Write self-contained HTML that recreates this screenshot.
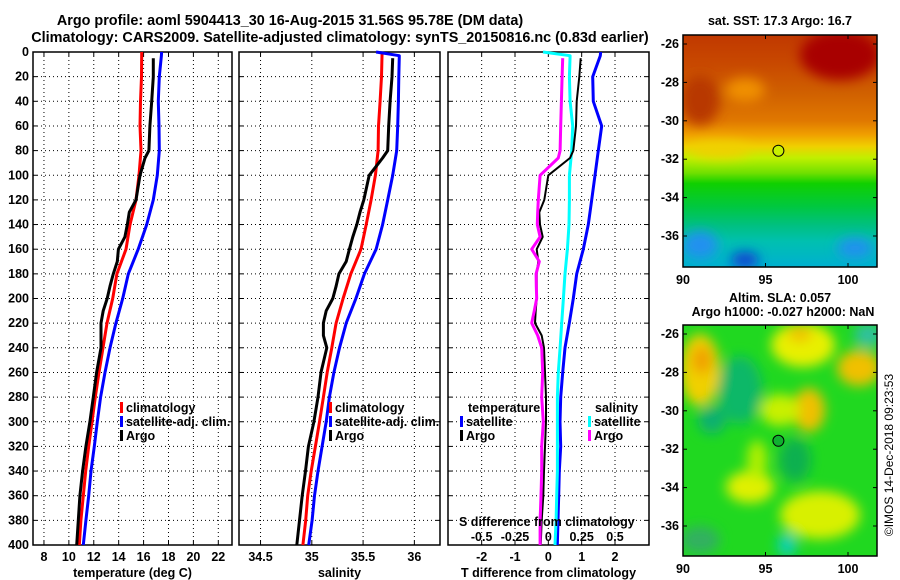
<!DOCTYPE html>
<html><head><meta charset="utf-8"><style>
html,body{margin:0;padding:0;background:#fff;width:900px;height:580px;overflow:hidden}
svg text{font-family:"Liberation Sans",Arial,sans-serif;font-weight:bold;fill:#000}
</style></head><body>
<svg id="chart" xmlns="http://www.w3.org/2000/svg" width="900" height="580" viewBox="0 0 900 580">
<defs>
<filter id="blur6" x="-50%" y="-50%" width="200%" height="200%"><feGaussianBlur stdDeviation="6"/></filter>
<clipPath id="clipTop"><rect x="683" y="35" width="194" height="232"/></clipPath>
<clipPath id="clipBot"><rect x="683" y="325" width="194" height="231"/></clipPath>
<linearGradient id="sstGrad" x1="0" y1="35" x2="0" y2="267" gradientUnits="userSpaceOnUse">
<stop offset="0" stop-color="#c03800"/><stop offset="0.12" stop-color="#c84800"/>
<stop offset="0.25" stop-color="#d06000"/><stop offset="0.37" stop-color="#e07800"/>
<stop offset="0.43" stop-color="#f0a000"/><stop offset="0.48" stop-color="#f0d000"/>
<stop offset="0.53" stop-color="#c0f000"/><stop offset="0.595" stop-color="#70e000"/>
<stop offset="0.64" stop-color="#10d000"/><stop offset="0.74" stop-color="#00c840"/>
<stop offset="0.82" stop-color="#00c080"/><stop offset="0.89" stop-color="#00c0b0"/>
<stop offset="1" stop-color="#00b0d0"/>
</linearGradient>
</defs>
<text x="290" y="25" font-size="14.4" text-anchor="middle">Argo profile: aoml 5904413_30 16-Aug-2015 31.56S 95.78E (DM data)</text>
<text x="340" y="42" font-size="14.4" text-anchor="middle">Climatology: CARS2009. Satellite-adjusted climatology: synTS_20150816.nc (0.83d earlier)</text>
<g id="panels"></g>
<g id="maps">
<text x="780" y="25" font-size="12.5" text-anchor="middle">sat. SST: 17.3 Argo: 16.7</text>
<g clip-path="url(#clipTop)">
<rect x="683" y="35" width="194" height="232" fill="url(#sstGrad)"/>
<g filter="url(#blur6)">
<ellipse cx="840" cy="55" rx="40" ry="25" fill="#a80000"/>
<ellipse cx="700" cy="100" rx="20" ry="25" fill="#b83800"/>
<ellipse cx="745" cy="90" rx="20" ry="12" fill="#f09000"/>
<ellipse cx="720" cy="150" rx="30" ry="8" fill="#f0d000"/>
<ellipse cx="700" cy="245" rx="18" ry="14" fill="#2090f0"/>
<ellipse cx="745" cy="260" rx="14" ry="8" fill="#1040d0"/>
<ellipse cx="855" cy="248" rx="18" ry="10" fill="#2090f0"/>
</g>
</g>
<rect x="683" y="35" width="194" height="232" fill="none" stroke="#000" stroke-width="1.5"/>
<circle cx="778.4" cy="150.7" r="5.5" fill="#c8f000" stroke="#000" stroke-width="1"/>
<text x="780" y="302" font-size="12.5" text-anchor="middle">Altim. SLA: 0.057</text>
<text x="783" y="316" font-size="12.5" text-anchor="middle">Argo h1000: -0.027 h2000: NaN</text>
<g clip-path="url(#clipBot)">
<rect x="683" y="325" width="194" height="231" fill="#20d820"/>
<g filter="url(#blur6)">
<ellipse cx="740" cy="390" rx="22" ry="34" fill="#10b868"/>
<ellipse cx="712" cy="420" rx="14" ry="14" fill="#10b070"/>
<ellipse cx="795" cy="460" rx="16" ry="22" fill="#10b050"/>
<ellipse cx="868" cy="335" rx="14" ry="12" fill="#30c0a0"/>
<ellipse cx="700" cy="540" rx="20" ry="14" fill="#30b060"/>
<ellipse cx="787" cy="545" rx="10" ry="12" fill="#10d0b0"/>
<ellipse cx="700" cy="370" rx="20" ry="36" fill="#f0d000"/>
<ellipse cx="702" cy="360" rx="10" ry="14" fill="#f0a000"/>
<ellipse cx="803" cy="345" rx="32" ry="22" fill="#e8f000"/>
<ellipse cx="800" cy="334" rx="12" ry="8" fill="#f0c000"/>
<ellipse cx="859" cy="368" rx="22" ry="18" fill="#f0c000"/>
<ellipse cx="809" cy="410" rx="16" ry="22" fill="#f0c000"/>
<ellipse cx="780" cy="410" rx="20" ry="16" fill="#c8f000"/>
<ellipse cx="750" cy="487" rx="24" ry="16" fill="#e0f000"/>
<ellipse cx="820" cy="515" rx="40" ry="24" fill="#d8f000"/>
<ellipse cx="757" cy="460" rx="10" ry="20" fill="#b0f000"/>
</g>
</g>
<rect x="683" y="325" width="194" height="231" fill="none" stroke="#000" stroke-width="1.5"/>
<circle cx="778.4" cy="440.8" r="5.5" fill="#10b030" stroke="#000" stroke-width="1"/>
<text transform="translate(893,455) rotate(-90)" font-size="12" text-anchor="middle" style="font-weight:normal">©IMOS 14-Dec-2018 09:23:53</text>
</g>
</svg>
<script>
// ---- data ----
const climDepths = [0,20,40,60,80,100,120,140,160,180,200,220,240,260,280,300,320,340,360,380,400];
const satDepths = [0,3,20,40,60,80,100,120,140,160,180,200,220,240,260,280,300,320,340,360,380,400];
const argoDepths = [5,20,40,60,80,86,100,120,130,140,150,160,170,180,190,200,210,220,230,240,260,280,300,320,340,360,380,400];
const tempClim = [15.85,15.83,15.75,15.71,15.79,15.63,15.39,14.91,14.59,13.86,13.52,13.06,12.74,12.42,12.12,11.86,11.59,11.35,11.16,10.97,10.84];
const tempSat = [17.45,17.43,17.26,17.18,17.24,17.26,17.1,16.78,16.25,15.57,14.77,14.32,13.78,13.3,12.9,12.55,12.28,12.04,11.78,11.59,11.37,11.16];
const tempArgo = [16.78,16.78,16.65,16.51,16.43,16.11,15.71,15.39,14.85,14.69,14.5,13.98,13.89,13.57,13.3,13.08,12.76,12.58,12.58,12.58,12.23,11.96,11.69,11.37,11.1,10.89,10.76,10.63];
const salClim = [35.685,35.68,35.666,35.65,35.646,35.62,35.578,35.53,35.48,35.38,35.305,35.237,35.195,35.15,35.113,35.075,35.035,34.994,34.96,34.94,34.913];
const salSat = [35.627,35.853,35.848,35.844,35.838,35.828,35.789,35.74,35.69,35.627,35.513,35.43,35.335,35.27,35.215,35.172,35.14,35.1,35.06,35.026,35.003,34.97];
const salArgo = [35.789,35.782,35.763,35.75,35.74,35.69,35.56,35.507,35.47,35.439,35.40,35.367,35.335,35.264,35.237,35.205,35.14,35.113,35.113,35.146,35.09,35.06,35.02,34.967,34.938,34.906,34.88,34.854];
const dTSat = [1.57,1.56,1.33,1.35,1.6,1.5,1.4,1.3,1.2,1.05,0.85,0.75,0.63,0.5,0.43,0.37,0.35,0.37,0.33,0.31,0.29,0.27];
const dTArgo = [0.97,0.93,0.85,0.83,0.75,0.65,0.0,-0.12,-0.27,-0.25,-0.17,-0.35,-0.3,-0.35,-0.35,-0.35,-0.38,-0.4,-0.2,-0.13,-0.1,-0.07,-0.07,-0.1,-0.13,-0.15,-0.2,-0.23];
const dSSat = [-0.04,0.163,0.158,0.163,0.183,0.175,0.158,0.158,0.155,0.143,0.125,0.113,0.1,0.088,0.075,0.068,0.068,0.068,0.068,0.063,0.058,0.05];
const dSArgo = [0.108,0.103,0.098,0.093,0.088,0.075,-0.062,-0.075,-0.08,-0.083,-0.062,-0.125,-0.068,-0.092,-0.09,-0.087,-0.105,-0.125,-0.08,-0.05,-0.042,-0.05,-0.038,-0.05,-0.05,-0.055,-0.062,-0.062];
const depthTicks = [0,20,40,60,80,100,120,140,160,180,200,220,240,260,280,300,320,340,360,380,400];
const tempTicks = [8,10,12,14,16,18,20,22];
const salTicks = [34.5,35,35.5,36];
const salTickLabels = ["34.5","35","35.5","36"];
const dTTicks = [-2,-1,0,1,2];
const dSTicks = [-0.5,-0.25,0,0.25,0.5];
const dSTickLabels = ["-0.5","-0.25","0","0.25","0.5"];
const latTicks = [-26,-28,-30,-32,-34,-36];
const lonTicks = [90,95,100];

const NS='http://www.w3.org/2000/svg';
const root=document.getElementById('panels');
function el(tag,attrs,parent){const e=document.createElementNS(NS,tag);for(const k in attrs)e.setAttribute(k,attrs[k]);(parent||root).appendChild(e);return e;}
function txt(s,x,y,anchor,size,parent){const t=el('text',{x:x,y:y,'text-anchor':anchor||'middle','font-size':size||12.5},parent);t.textContent=s;return t;}

const Y0=52,Y1=545;
function yP(p){return Y0+p*(Y1-Y0)/400;}
function mkX(x0,x1,d0,d1){return v=>x0+(v-d0)*(x1-x0)/(d1-d0);}

const panels=[
 {name:'temperature-panel',x0:33,x1:232,d0:7.12,d1:23.1,ticks:tempTicks,labels:tempTicks.map(String),title:'temperature (deg C)'},
 {name:'salinity-panel',x0:239,x1:440,d0:34.29,d1:36.25,ticks:salTicks,labels:salTickLabels,title:'salinity'},
 {name:'difference-panel',x0:448,x1:649,d0:-3.01,d1:3.02,ticks:dTTicks,labels:dTTicks.map(String),title:'T difference from climatology'}
];
panels.forEach((P,i)=>{
 const g=el('g',{});
 
 
 P.x=mkX(P.x0,P.x1,P.d0,P.d1);
 depthTicks.forEach(p=>{ if(p>0&&p<400){const l=el('line',{x1:P.x0,x2:P.x1,y1:yP(p),y2:yP(p),stroke:'#000','stroke-width':1,'stroke-dasharray':'1,3'},g);
   }
   el('line',{x1:P.x0,x2:P.x0+4,y1:yP(p),y2:yP(p),stroke:'#000'},g);
   el('line',{x1:P.x1-4,x2:P.x1,y1:yP(p),y2:yP(p),stroke:'#000'},g);
 });
 P.ticks.forEach((t,j)=>{const xx=P.x(t);
   const l=el('line',{x1:xx,x2:xx,y1:Y0,y2:Y1,stroke:'#000','stroke-width':1,'stroke-dasharray':'1,3'},g);
   
   el('line',{x1:xx,x2:xx,y1:Y1-4,y2:Y1,stroke:'#000'},g);
   el('line',{x1:xx,x2:xx,y1:Y0,y2:Y0+4,stroke:'#000'},g);
   const t2=txt(P.labels[j],xx,561,'middle',12.5,g);
   
 });
 const at=txt(P.title,(P.x0+P.x1)/2,577,'middle',12.5,g);
 
 const fr=el('rect',{x:P.x0,y:Y0,width:P.x1-P.x0,height:Y1-Y0,fill:'none',stroke:'#000','stroke-width':1.5},g);
 
 P.g=g;
});
depthTicks.forEach(p=>{const t=txt(String(p),29,yP(p)+4,'end',12.5);
 });

function series(P,depths,vals,color,w,name,xf){
 const f=xf||P.x;
 const pts=depths.map((d,i)=>f(vals[i]).toFixed(1)+','+yP(d).toFixed(1)).join(' ');
 const l=el('polyline',{points:pts,fill:'none',stroke:color,'stroke-width':w,'stroke-linejoin':'round'},P.g);
 
 
}
const [PT,PS,PD]=panels;
series(PT,climDepths,tempClim,'#ff0000',3,'temp-climatology-line');
series(PT,satDepths,tempSat,'#0000ff',3,'temp-satellite-line');
series(PT,argoDepths,tempArgo,'#000000',3,'temp-argo-line');
series(PS,climDepths,salClim,'#ff0000',3,'sal-climatology-line');
series(PS,satDepths,salSat,'#0000ff',3,'sal-satellite-line');
series(PS,argoDepths,salArgo,'#000000',3,'sal-argo-line');
const xS=mkX(PD.x0,PD.x1,-0.7525,0.755);
series(PD,satDepths,dTSat,'#0000ff',3,'dT-satellite-line');
series(PD,satDepths,dSSat,'#00ffff',3,'dS-satellite-line',xS);
series(PD,argoDepths,dTArgo,'#000000',2,'dT-argo-line');
series(PD,argoDepths,dSArgo,'#ff00ff',3,'dS-argo-line',xS);

function legend(g,x,y,color,label,name){
 const lg=el('g',{},g);
 
 
 el('rect',{x:x,y:y-10,width:3,height:11,fill:color},lg);
 txt(label,x+6,y,'start',12.5,lg);
}
legend(PT.g,120,412,'#ff0000','climatology','legend-entry-climatology');
legend(PT.g,120,426,'#0000ff','satellite-adj. clim.','legend-entry-satellite');
legend(PT.g,120,440,'#000000','Argo','legend-entry-argo');
legend(PS.g,329,412,'#ff0000','climatology','legend-entry-climatology');
legend(PS.g,329,426,'#0000ff','satellite-adj. clim.','legend-entry-satellite');
legend(PS.g,329,440,'#000000','Argo','legend-entry-argo');
const lt=txt('temperature',468,412,'start',12.5,PD.g);

legend(PD.g,460,426,'#0000ff','satellite','legend-entry-t-satellite');
legend(PD.g,460,440,'#000000','Argo','legend-entry-t-argo');
const ls=txt('salinity',595,412,'start',12.5,PD.g);

legend(PD.g,588,426,'#00ffff','satellite','legend-entry-s-satellite');
legend(PD.g,588,440,'#ff00ff','Argo','legend-entry-s-argo');
const st=txt('S difference from climatology',459,526,'start',12.5,PD.g);

dSTicks.forEach((t,j)=>{const s=txt(dSTickLabels[j],xS(t),541,'middle',12.5,PD.g);
 });

const maps=document.getElementById('maps');
function lonX(l){return 683+(l-90)*16.5;}
[[44,267,35],[334,556,325]].forEach(([yRef,yBot,yTop])=>{
 latTicks.forEach(la=>{const y=yRef+(-26-la)*19.2;
  el('line',{x1:683,x2:687,y1:y,y2:y,stroke:'#000'},maps);
  el('line',{x1:873,x2:877,y1:y,y2:y,stroke:'#000'},maps);
  const t=txt(String(la),679,y+4,'end',12.5,maps);
  });
 lonTicks.forEach(lo=>{const x=lonX(lo);
  el('line',{x1:x,x2:x,y1:yBot-4,y2:yBot,stroke:'#000'},maps);
  el('line',{x1:x,x2:x,y1:yTop,y2:yTop+4,stroke:'#000'},maps);
  const t=txt(String(lo),x,yBot+17,'middle',12.5,maps);
  });
});
</script>
</body></html>
